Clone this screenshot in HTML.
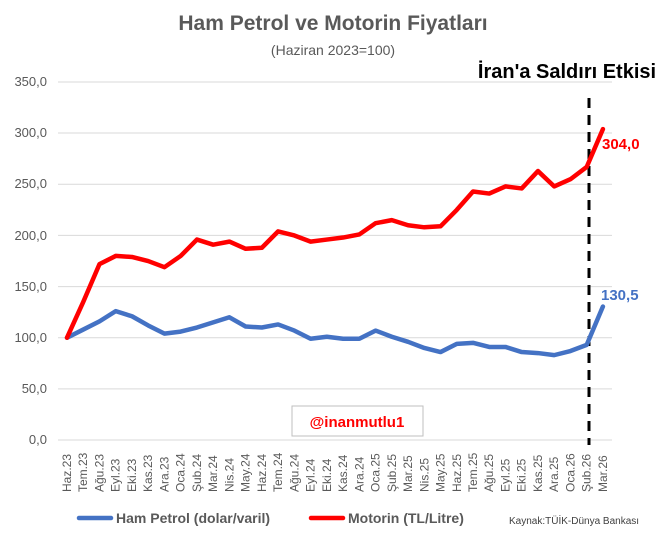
<!DOCTYPE html>
<html><head><meta charset="utf-8"><style>body{margin:0;background:#fff}svg{display:block}</style></head><body>
<svg width="667" height="537" viewBox="0 0 667 537" xmlns="http://www.w3.org/2000/svg" font-family="Liberation Sans, DejaVu Sans, sans-serif">
<rect width="667" height="537" fill="#fff"/>
<text x="333" y="30" text-anchor="middle" font-size="21" font-weight="bold" fill="#595959">Ham Petrol ve Motorin Fiyatları</text>
<text x="333" y="55" text-anchor="middle" font-size="14" fill="#595959">(Haziran 2023=100)</text>
<g stroke="#d9d9d9" stroke-width="1">
<line x1="58" x2="612" y1="82" y2="82"/><line x1="58" x2="612" y1="133" y2="133"/><line x1="58" x2="612" y1="184.3" y2="184.3"/><line x1="58" x2="612" y1="235.4" y2="235.4"/><line x1="58" x2="612" y1="286.6" y2="286.6"/><line x1="58" x2="612" y1="337.7" y2="337.7"/><line x1="58" x2="612" y1="388.9" y2="388.9"/><line x1="58" x2="612" y1="440" y2="440"/>
</g>
<g font-size="13" fill="#595959" text-anchor="end">
<text x="47" y="86">350,0</text><text x="47" y="137">300,0</text><text x="47" y="188">250,0</text><text x="47" y="240">200,0</text><text x="47" y="291">150,0</text><text x="47" y="342">100,0</text><text x="47" y="393">50,0</text><text x="47" y="444">0,0</text>
</g>
<g id="xl" font-size="12" fill="#595959"></g>
<line x1="589" y1="98" x2="589" y2="445" stroke="#000" stroke-width="3" stroke-dasharray="10,7"/>
<text x="567" y="78" text-anchor="middle" font-size="20" font-weight="bold" fill="#000">İran'a Saldırı Etkisi</text>
<polyline id="blue" fill="none" stroke="#4472c4" stroke-width="4.5" stroke-linejoin="round" stroke-linecap="round"/>
<polyline id="red" fill="none" stroke="#ff0000" stroke-width="4.5" stroke-linejoin="round" stroke-linecap="round"/>
<text x="602" y="149" font-size="15" font-weight="bold" fill="#ff0000">304,0</text>
<text x="601" y="300" font-size="15" font-weight="bold" fill="#4472c4">130,5</text>
<rect x="292" y="406" width="131" height="30" fill="#fff" stroke="#bfbfbf"/>
<text x="357" y="427" text-anchor="middle" font-size="15" font-weight="bold" fill="#ff0000">@inanmutlu1</text>
<line x1="79" y1="518" x2="111" y2="518" stroke="#4472c4" stroke-width="4.5" stroke-linecap="round"/>
<text x="116" y="523" font-size="14" font-weight="bold" fill="#595959">Ham Petrol (dolar/varil)</text>
<line x1="311" y1="518" x2="343" y2="518" stroke="#ff0000" stroke-width="4.5" stroke-linecap="round"/>
<text x="348" y="523" font-size="14" font-weight="bold" fill="#595959">Motorin (TL/Litre)</text>
<text x="509" y="524" font-size="10" fill="#404040">Kaynak:TÜİK-Dünya Bankası</text>
</svg>
<script>
var L=["Haz.23","Tem.23","Ağu.23","Eyl.23","Eki.23","Kas.23","Ara.23","Oca.24","Şub.24","Mar.24","Nis.24","May.24","Haz.24","Tem.24","Ağu.24","Eyl.24","Eki.24","Kas.24","Ara.24","Oca.25","Şub.25","Mar.25","Nis.25","May.25","Haz.25","Tem.25","Ağu.25","Eyl.25","Eki.25","Kas.25","Ara.25","Oca.26","Şub.26","Mar.26"];
var R=[100,135,172,180,179,175,169,180,196,191,194,187,188,204,200,194,196,198,201,212,215,210,208,209,225,243,241,248,246,263,248,255,267,304];
var B=[100,108,116,126,121,112,104,106,110,115,120,111,110,113,107,99,101,99,99,107,101,96,90,86,94,95,91,91,86,85,83,87,93,130.5];
function X(i){return 67+i*16.24}function Y(v){return 440-v*1.0226}
document.getElementById('red').setAttribute('points',R.map((v,i)=>X(i)+','+Y(v)).join(' '));
document.getElementById('blue').setAttribute('points',B.map((v,i)=>X(i)+','+Y(v)).join(' '));
var g=document.getElementById('xl'),s='';
L.forEach((t,i)=>{var x=X(i)+4;s+='<text transform="translate('+x+',492) rotate(-90)">'+t+'</text>';});
g.innerHTML=s;
</script>
</body></html>
